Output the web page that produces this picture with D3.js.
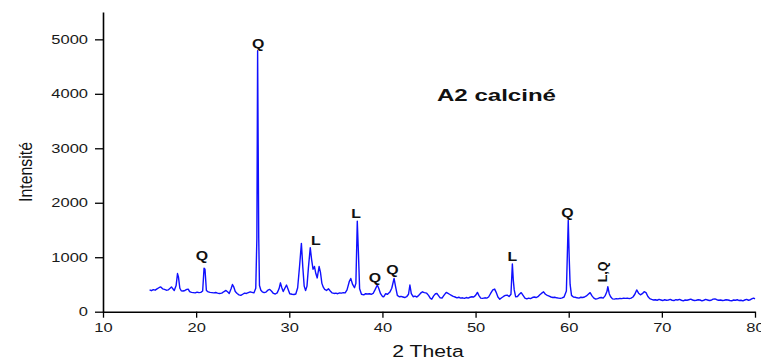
<!DOCTYPE html>
<html><head><meta charset="utf-8">
<script src="https://cdn.jsdelivr.net/npm/d3@7"></script>
<style>body{margin:0;background:#fff}svg{display:block}</style>
</head><body>
<svg id="c" width="761" height="361"></svg>
<script>
// ---- data ----
const theta = [
15.0,15.2,15.4,15.6,15.8,16.0,16.2,16.4,16.6,16.8,17.0,17.2,17.35,17.5,17.65,17.85,18.0,18.1,18.25,18.4,18.6,18.8,19.0,19.15,19.3,19.5,19.7,19.9,
20.1,20.3,20.5,20.7,20.85,20.95,21.1,21.3,21.5,21.7,21.9,22.1,22.3,22.5,22.75,23.0,23.2,23.4,23.55,23.75,23.9,24.05,24.2,24.4,24.6,24.8,
25.0,25.2,25.4,25.6,25.8,26.0,26.2,26.4,26.52,26.6,26.66,26.72,26.8,26.95,27.1,27.3,27.5,27.7,27.9,28.1,28.3,28.5,28.7,28.9,29.05,29.2,29.35,29.55,29.7,29.85,
30.05,30.3,30.5,30.7,30.9,31.1,31.3,31.45,31.6,31.75,31.9,32.05,32.25,32.4,32.55,32.7,32.85,33.0,33.2,33.35,33.5,33.65,33.8,34.0,34.2,34.4,34.6,34.8,
35.0,35.2,35.4,35.6,35.8,36.0,36.2,36.45,36.6,36.8,37.0,37.15,37.3,37.42,37.55,37.75,38.0,38.2,38.4,38.6,38.8,39.0,39.2,39.45,39.6,39.8,
40.0,40.15,40.35,40.55,40.8,41.0,41.25,41.4,41.6,41.8,42.0,42.2,42.4,42.6,42.8,42.95,43.1,43.3,43.5,43.7,43.9,44.1,44.3,44.5,44.75,44.95,
45.15,45.3,45.5,45.7,45.85,46.0,46.2,46.4,46.6,46.85,47.0,47.2,47.4,47.6,47.8,48.0,48.2,48.4,48.6,48.8,49.0,49.2,49.4,49.6,49.8,
50.0,50.2,50.35,50.55,50.75,51.0,51.2,51.4,51.6,51.85,52.05,52.2,52.4,52.6,52.8,53.0,53.2,53.4,53.6,53.8,53.95,54.05,54.15,54.3,54.5,54.7,54.9,
55.1,55.3,55.5,55.7,55.9,56.1,56.3,56.5,56.7,56.9,57.1,57.3,57.5,57.7,57.9,58.1,58.3,58.5,58.7,58.9,59.1,59.3,59.5,59.75,59.95,
60.05,60.15,60.3,60.5,60.7,60.9,61.1,61.3,61.5,61.7,61.9,62.1,62.3,62.5,62.7,62.9,63.1,63.3,63.5,63.7,63.9,64.1,64.2,64.35,64.5,64.7,64.9,
65.1,65.3,65.5,65.7,65.9,66.1,66.3,66.5,66.7,66.9,67.1,67.3,67.5,67.7,67.9,68.1,68.3,68.5,68.7,68.9,69.1,69.3,69.5,69.7,69.9,
70.1,70.3,70.5,70.7,70.9,71.1,71.3,71.5,71.7,71.9,72.1,72.3,72.5,72.7,72.9,73.1,73.3,73.5,73.7,73.9,74.1,74.3,74.5,74.7,74.9,
75.1,75.3,75.5,75.7,75.9,76.1,76.3,76.5,76.7,76.9,77.1,77.3,77.5,77.7,77.9,78.1,78.3,78.5,78.7,78.9,79.1,79.3,79.5,79.7,79.85,80.0
];
const intensity = [
400,385,405,395,420,440,455,420,410,395,400,430,455,420,390,480,700,640,430,385,380,390,410,415,370,355,350,345,
360,350,355,380,800,780,390,365,355,350,345,352,340,335,340,370,390,360,335,420,500,450,370,335,310,300,
320,340,335,350,365,355,345,430,1350,4790,3060,1350,480,395,365,350,360,395,410,375,335,325,345,420,530,440,370,440,490,420,
330,320,315,325,440,830,1255,820,470,390,470,800,1175,950,780,830,700,620,830,720,520,450,410,390,420,380,345,335,
340,330,345,340,350,345,400,560,610,500,440,520,1660,1100,420,320,310,330,325,330,320,335,400,490,430,330,
280,275,330,320,360,430,610,470,300,275,280,270,260,275,320,490,330,275,285,270,300,340,365,350,340,300,
245,230,290,330,335,300,255,250,300,355,340,320,300,280,270,255,265,250,255,245,260,250,265,275,270,
300,355,300,250,245,255,250,270,330,400,415,360,270,230,255,280,300,305,280,320,875,580,400,275,280,320,350,
300,250,235,250,240,260,270,260,275,310,340,365,320,300,285,270,260,265,255,250,245,255,270,380,1680,
1010,500,300,270,265,255,250,265,260,270,290,320,350,290,250,230,240,255,260,250,290,370,460,330,275,235,230,
240,235,245,240,250,245,250,240,250,270,320,400,340,310,330,367,350,280,240,225,215,220,210,225,215,
205,220,210,215,225,210,205,220,215,225,210,200,215,210,220,230,215,205,210,220,215,200,210,225,215,
205,210,230,235,220,210,215,205,210,220,215,205,200,215,210,220,205,210,200,215,225,210,220,240,250,235
];
const xTicks = [10,20,30,40,50,60,70,80];
const xMinor = [15,25,35,45,55,65,75];
const yTicks = [0,1000,2000,3000,4000,5000];
const yMinor = [500,1500,2500,3500,4500];
const peakLabels = ["Q","Q","L","L","Q","Q","L","Q"];
const peakLabelTheta = [20.63,26.67,32.84,37.16,39.2,41.06,53.95,59.87];
const peakLabelI = [949,4839,1224,1719,546,692,930,1738];
const rotLabel = "L,Q", rotLabelTheta = 63.68, rotLabelI = 730;
const title = "A2 calciné", xTitle = "2 Theta", yTitle = "Intensité";

// ---- drawing ----
const svg = d3.select("#c");
const x = d3.scaleLinear().domain([10,80]).range([103,755]);
const y = d3.scaleLinear().domain([0,5500]).range([311.7,12.1]);
const SX = 1.27;
const font = "'Liberation Sans', Arial, sans-serif";

const data = theta.map((t,i)=>[t,intensity[i]]);
svg.append("path").datum(data)
  .attr("fill","none").attr("stroke","#1010ff").attr("stroke-width",1.4)
  .attr("stroke-linejoin","round")
  .attr("d", d3.line().x(d=>x(d[0])).y(d=>y(d[1])));

// axes
const gx = svg.append("g").attr("transform","translate(0,311.7)");
gx.call(d3.axisBottom(x).tickValues(xMinor).tickSize(3.5).tickSizeOuter(0).tickFormat(""));
gx.call(d3.axisBottom(x).tickValues(xTicks).tickSize(6).tickSizeOuter(0).tickPadding(5).tickFormat(d3.format("d")));
const gy = svg.append("g").attr("transform","translate(103,0)");
gy.call(d3.axisLeft(y).tickValues(yMinor).tickSize(4.5).tickSizeOuter(0).tickFormat(""));
gy.call(d3.axisLeft(y).tickValues(yTicks).tickSize(8).tickSizeOuter(0).tickFormat(d3.format("d")));
[gx,gy].forEach(g=>{
  g.selectAll(".domain").attr("stroke","#000").attr("stroke-width",1.6);
  g.selectAll(".tick line").attr("stroke","#000").attr("stroke-width",1.3);
  g.selectAll(".tick text").attr("font-family",font).attr("font-size",13).attr("fill","#1a1a1a");
});
gx.selectAll(".tick text").attr("transform",`scale(${SX},1)`);
gy.selectAll(".tick text").attr("x",-15/SX).attr("transform",`scale(${SX},1)`);

// axis titles
svg.append("text").attr("transform",`translate(428,357) scale(${SX*0.98},1)`)
  .attr("text-anchor","middle").attr("font-family",font).attr("font-size",17).attr("fill","#111").text(xTitle);
svg.append("text").attr("transform","translate(32,172) rotate(-90)")
  .attr("text-anchor","middle").attr("font-family",font).attr("font-size",19).attr("fill","#111")
  .attr("textLength",60).attr("lengthAdjust","spacingAndGlyphs").text(yTitle);

// title
svg.append("text").attr("x",437).attr("y",101)
  .attr("font-family",font).attr("font-weight","bold").attr("font-size",17).attr("fill","#111")
  .attr("textLength",119).attr("lengthAdjust","spacingAndGlyphs").text(title);

// peak labels
peakLabels.forEach((s,i)=>{
  svg.append("text")
    .attr("transform",`translate(${x(peakLabelTheta[i])},${y(peakLabelI[i])}) scale(${SX},1)`)
    .attr("text-anchor","middle").attr("font-family",font).attr("font-weight","bold")
    .attr("font-size",12.5).attr("fill","#111").text(s);
});
svg.append("text")
  .attr("transform",`translate(${x(rotLabelTheta)},${y(rotLabelI)}) rotate(-90)`)
  .attr("text-anchor","middle").attr("dy","0.35em").attr("font-family",font).attr("font-weight","bold")
  .attr("font-size",12.5).attr("fill","#111").text(rotLabel);
</script>
</body></html>
